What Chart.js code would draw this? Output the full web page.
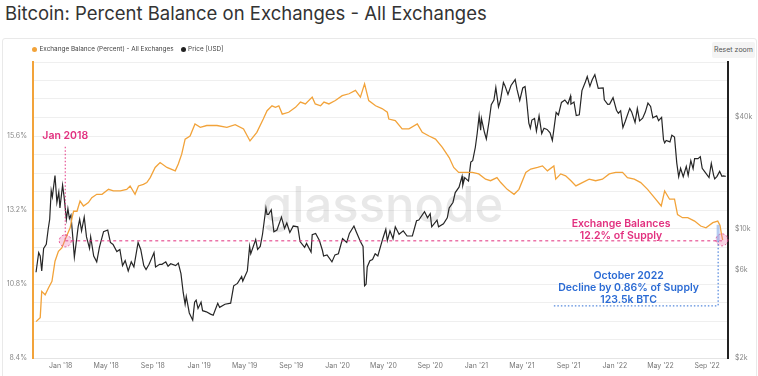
<!DOCTYPE html>
<html>
<head>
<meta charset="utf-8">
<script src="https://cdn.jsdelivr.net/npm/chart.js@4.4.0/dist/chart.umd.min.js"></script>
<style>
  body { margin: 0; width: 758px; height: 376px; overflow: hidden; background: #fff; font-family: Inter, "Noto Sans", sans-serif; position: relative; }
  #title { position: absolute; left: 5px; top: 1px; font-size: 18.5px; line-height: 25px; color: #333; white-space: nowrap; }
  #card { position: absolute; left: 2px; top: 38px; width: 753px; height: 345px; border: 1px solid #e9e9e9; border-radius: 3px; }
  #chart { position: absolute; left: 0; top: 0; }
  #legend { position: absolute; left: 32px; top: 45px; font-size: 6.4px; color: #444; display: flex; gap: 7px; z-index: 2; }
  #legend span { display: inline-flex; align-items: center; }
  #legend i { display: inline-block; width: 5px; height: 5px; border-radius: 50%; margin-right: 2.5px; }
  #reset { position: absolute; left: 712px; top: 42px; width: 43px; height: 16px; line-height: 16px; text-align: center; background: #f4f4f4; border-radius: 2px; font-size: 7px; color: #555; z-index: 2; }
</style>
</head>
<body>
<div id="title">Bitcoin: Percent Balance on Exchanges - All Exchanges</div>
<div id="card"></div>
<div id="legend">
  <span><i style="background:#f2a33a"></i>Exchange Balance (Percent) - All Exchanges</span>
  <span><i style="background:#222"></i>Price [USD]</span>
</div>
<div id="reset">Reset zoom</div>
<canvas id="chart" width="758" height="376"></canvas>
<script>
// exchange balance, % of supply
var balanceDates = ['2017-10-28','2017-11-08','2017-11-12','2017-11-21','2017-11-30','2017-12-09','2017-12-17','2017-12-26',
  '2018-01-04','2018-01-13','2018-01-22','2018-01-26','2018-01-31','2018-02-04','2018-02-13','2018-02-21','2018-03-02','2018-03-15',
  '2018-03-24','2018-04-06','2018-04-20','2018-05-07','2018-05-20','2018-06-07','2018-06-24','2018-07-03','2018-07-16','2018-07-25',
  '2018-08-07','2018-08-16','2018-08-25','2018-09-07','2018-09-20','2018-10-08','2018-10-30','2018-11-07','2018-11-16','2018-11-25',
  '2018-12-08','2018-12-21','2019-01-04','2019-01-21','2019-02-17','2019-03-15','2019-04-06','2019-04-28','2019-05-15','2019-06-02',
  '2019-06-19','2019-06-29','2019-07-12','2019-07-21','2019-07-30','2019-08-08','2019-08-25','2019-09-12','2019-09-25','2019-10-08',
  '2019-10-26','2019-11-03','2019-11-17','2019-11-26','2019-12-09','2019-12-26','2020-01-13','2020-01-31','2020-02-17','2020-03-01',
  '2020-03-12','2020-03-23','2020-04-10','2020-04-27','2020-05-11','2020-05-15','2020-06-01','2020-06-19','2020-07-07','2020-07-29',
  '2020-08-11','2020-08-29','2020-09-15','2020-10-03','2020-10-21','2020-11-02','2020-11-15','2020-12-03','2020-12-21','2021-01-07',
  '2021-01-25','2021-02-07','2021-02-24','2021-03-06','2021-03-23','2021-04-10','2021-04-23','2021-05-11','2021-05-24','2021-06-11',
  '2021-06-24','2021-07-07','2021-07-24','2021-07-29','2021-08-11','2021-08-24','2021-09-07','2021-09-20','2021-10-07','2021-10-25',
  '2021-11-11','2021-11-29','2021-12-17','2022-01-03','2022-01-21','2022-02-03','2022-02-21','2022-03-10','2022-03-28','2022-04-15',
  '2022-05-03','2022-05-12','2022-05-25','2022-06-07','2022-06-15','2022-06-28','2022-07-12','2022-07-30','2022-08-15','2022-08-29',
  '2022-09-16','2022-09-29','2022-10-05','2022-10-09','2022-10-12'];
var balancePct = [9.58,9.71,10.56,10.45,10.68,10.89,11.54,11.86,
  11.97,12.25,12.51,12.62,12.95,13.16,13.16,13.49,13.33,13.44,
  13.60,13.71,13.71,13.87,13.82,13.82,13.87,13.98,13.71,13.98,
  14.03,14.09,14.25,14.58,14.74,14.58,14.47,14.69,15.01,15.50,
  15.60,15.99,15.88,15.94,15.94,15.88,15.97,15.83,15.44,15.72,
  16.15,16.42,16.58,16.53,16.58,16.31,16.37,16.53,16.70,16.64,
  16.86,16.64,16.58,16.70,16.64,16.75,16.91,16.97,17.08,16.86,
  17.29,16.75,16.58,16.49,16.37,16.15,16.10,15.83,15.83,15.99,
  15.72,15.60,15.50,15.23,14.90,14.58,14.42,14.42,14.42,14.37,
  14.20,14.15,14.25,14.09,13.87,13.71,13.87,14.42,14.53,14.58,
  14.63,14.47,14.63,14.20,14.37,14.31,14.15,13.98,14.09,14.20,
  14.15,14.20,14.37,14.42,14.42,14.25,14.20,14.09,13.87,13.60,
  13.33,13.82,13.55,13.55,13.05,12.95,12.95,12.84,12.68,12.62,
  12.79,12.84,12.70,12.40,12.22];

// BTC price, USD
var priceDates = ['2017-10-28','2017-11-04','2017-11-08','2017-11-12','2017-11-17','2017-11-24','2017-11-29','2017-12-03','2017-12-07','2017-12-10',
  '2017-12-17','2017-12-22','2017-12-27','2017-12-30','2018-01-06','2018-01-10','2018-01-16','2018-01-20','2018-01-24','2018-01-28',
  '2018-02-02','2018-02-06','2018-02-10','2018-02-16','2018-02-20','2018-02-25','2018-03-04','2018-03-10','2018-03-18','2018-03-21',
  '2018-03-29','2018-04-06','2018-04-13','2018-04-24','2018-05-05','2018-05-12','2018-05-19','2018-05-29','2018-06-06','2018-06-13',
  '2018-06-20','2018-06-28','2018-07-06','2018-07-13','2018-07-24','2018-07-31','2018-08-08','2018-08-14','2018-08-22','2018-08-30',
  '2018-09-04','2018-09-08','2018-09-19','2018-09-25','2018-10-05','2018-10-11','2018-10-18','2018-10-31','2018-11-07','2018-11-14',
  '2018-11-20','2018-11-25','2018-11-28','2018-12-06','2018-12-15','2018-12-20','2018-12-24','2018-12-29','2019-01-06','2019-01-10',
  '2019-01-20','2019-01-31','2019-02-07','2019-02-19','2019-02-24','2019-03-10','2019-03-25','2019-04-02','2019-04-12','2019-04-23',
  '2019-04-26','2019-05-08','2019-05-14','2019-05-17','2019-05-30','2019-06-04','2019-06-11','2019-06-17','2019-06-26','2019-06-29',
  '2019-07-03','2019-07-10','2019-07-17','2019-07-25','2019-08-06','2019-08-14','2019-08-20','2019-08-28','2019-09-06','2019-09-18',
  '2019-09-24','2019-10-06','2019-10-11','2019-10-23','2019-10-26','2019-11-04','2019-11-14','2019-11-22','2019-11-25','2019-12-04',
  '2019-12-17','2019-12-25','2020-01-03','2020-01-14','2020-01-25','2020-02-01','2020-02-13','2020-02-19','2020-03-01','2020-03-08',
  '2020-03-12','2020-03-16','2020-03-19','2020-03-26','2020-04-02','2020-04-09','2020-04-16','2020-04-29','2020-05-07','2020-05-11',
  '2020-05-18','2020-05-26','2020-06-01','2020-06-11','2020-06-22','2020-07-02','2020-07-16','2020-07-27','2020-08-02','2020-08-17',
  '2020-08-25','2020-09-01','2020-09-05','2020-09-19','2020-09-23','2020-10-06','2020-10-16','2020-10-21','2020-10-31','2020-11-06',
  '2020-11-16','2020-11-24','2020-11-26','2020-12-01','2020-12-11','2020-12-17','2020-12-22','2020-12-29','2021-01-03','2021-01-08',
  '2021-01-12','2021-01-14','2021-01-22','2021-01-27','2021-02-03','2021-02-09','2021-02-16','2021-02-21','2021-02-28','2021-03-05',
  '2021-03-13','2021-03-17','2021-03-25','2021-04-02','2021-04-13','2021-04-18','2021-04-25','2021-05-03','2021-05-09','2021-05-13',
  '2021-05-19','2021-05-23','2021-05-27','2021-06-03','2021-06-08','2021-06-15','2021-06-22','2021-06-28','2021-07-06','2021-07-14',
  '2021-07-20','2021-07-25','2021-07-30','2021-08-05','2021-08-13','2021-08-22','2021-08-30','2021-09-06','2021-09-07','2021-09-15',
  '2021-09-21','2021-09-29','2021-10-06','2021-10-15','2021-10-20','2021-10-27','2021-11-02','2021-11-09','2021-11-18','2021-11-24',
  '2021-12-01','2021-12-04','2021-12-13','2021-12-18','2021-12-27','2022-01-05','2022-01-10','2022-01-16','2022-01-22','2022-01-28',
  '2022-02-09','2022-02-14','2022-02-23','2022-03-01','2022-03-07','2022-03-15','2022-03-22','2022-03-29','2022-04-05','2022-04-11',
  '2022-04-21','2022-04-26','2022-05-04','2022-05-09','2022-05-12','2022-05-16','2022-05-26','2022-05-31','2022-06-07','2022-06-13',
  '2022-06-18','2022-06-23','2022-06-30','2022-07-08','2022-07-13','2022-07-20','2022-07-26','2022-07-30','2022-08-08','2022-08-14',
  '2022-08-19','2022-08-26','2022-09-06','2022-09-12','2022-09-18','2022-09-21','2022-09-27','2022-10-04','2022-10-10','2022-10-14',
  '2022-10-20'];
var priceUsd = [5800,7400,7100,5900,7800,8200,9900,11200,16000,14800,
  19300,13800,15700,12900,17100,14800,11200,12800,11300,11800,
  8900,7000,8100,10200,11200,9700,11500,9000,7800,9000,
  7100,6600,7900,9600,9800,8400,8200,7500,7700,6300,
  6700,5900,6600,6200,8400,7700,6300,6000,6400,7000,
  7400,6200,6400,6400,6600,6250,6450,6300,6500,5700,
  4500,3900,4300,3500,3200,4000,4100,3700,4000,3600,
  3550,3450,3400,3950,3750,3900,3950,4900,5050,5500,
  5200,5900,8000,7300,8700,7700,8000,9300,12900,11900,
  11900,12600,9600,9800,11500,10000,10700,9500,10300,10200,
  8500,7900,8300,7450,9250,9400,8600,7600,7100,7200,
  6600,7200,7300,8800,8400,9400,10300,9600,8500,8000,
  4900,5000,6200,6700,6800,7300,7100,8800,9900,8600,
  9700,8800,10200,9300,9700,9100,9100,11000,11100,12300,
  11400,12000,10200,11100,10200,10600,11400,12900,13800,15600,
  16700,19100,17100,18800,18000,22800,23200,27400,32700,40600,
  33900,39200,33000,30400,37600,46500,49200,57500,45200,48800,
  61200,58900,52800,59000,63500,56000,49000,57200,58200,49700,
  37000,34700,38400,39200,33500,40500,32500,34700,34200,32800,
  29800,35400,42200,40900,47800,49300,46900,51800,46800,48100,
  40600,41000,55400,61600,66000,58400,63300,67500,56900,57100,
  57200,49400,46700,46800,50700,43400,41800,43100,35000,37700,
  44400,42500,37300,44300,38000,39300,42400,47400,45500,39500,
  40500,38100,39700,30100,28900,29800,29300,31800,31100,22500,
  19000,21100,19000,21600,19300,23200,21000,23800,23800,24400,
  21100,20200,18800,22400,19400,18500,19100,20300,19100,19200,
  19100];

// axis ticks
var monthTicks = ['2018-01-01','2018-05-01','2018-09-01','2019-01-01','2019-05-01','2019-09-01','2020-01-01','2020-05-01',
  '2020-09-01','2021-01-01','2021-05-01','2021-09-01','2022-01-01','2022-05-01','2022-09-01'];
var pctTicks = [8.4,9.0,9.6,10.2,10.8,11.4,12.0,12.6,13.2,13.8,14.4,15.0,15.6,16.2,16.8,17.4,18.0];
var pctLabels = [8.4,10.8,13.2,15.6];
var priceTicks = [2000,6000,10000,40000];
var monthNames = ['Jan','Feb','Mar','Apr','May','Jun','Jul','Aug','Sep','Oct','Nov','Dec'];

var ORANGE = '#f2a33a';
var PINK = '#e2307f';
var BLUE = '#2b6bd4';

function toPoints(dates, vals) {
  return dates.map(function (d, i) { return { x: Date.parse(d), y: vals[i] }; });
}

Chart.defaults.font.family = 'Inter, "Noto Sans", sans-serif';

var watermark = {
  id: 'watermark',
  beforeDatasetsDraw: function (chart) {
    var a = chart.chartArea, ctx = chart.ctx;
    ctx.save();
    ctx.font = '500 49px Inter';
    ctx.fillStyle = 'rgba(150,150,150,0.22)';
    ctx.textAlign = 'center';
    ctx.textBaseline = 'middle';
    ctx.fillText('glassnode', (a.left + a.right) / 2 + 2, (a.top + a.bottom) / 2 - 3);
    ctx.restore();
  }
};

var notes = {
  id: 'notes',
  afterDatasetsDraw: function (chart) {
    var ctx = chart.ctx, xs = chart.scales.x, ys = chart.scales.y;
    var px = function (d) { return xs.getPixelForValue(Date.parse(d)); };
    var py = function (v) { return ys.getPixelForValue(v); };
    function line(x1, y1, x2, y2, color, dash) {
      ctx.save();
      ctx.strokeStyle = color; ctx.lineWidth = 1; ctx.setLineDash(dash);
      ctx.beginPath(); ctx.moveTo(x1, y1); ctx.lineTo(x2, y2); ctx.stroke();
      ctx.restore();
    }
    function ring(x, y) {
      ctx.save();
      ctx.beginPath(); ctx.arc(x, y, 6, 0, Math.PI * 2);
      ctx.fillStyle = 'rgba(236,110,165,0.3)'; ctx.fill();
      ctx.strokeStyle = PINK; ctx.lineWidth = 0.8; ctx.setLineDash([2, 2]); ctx.stroke();
      ctx.restore();
    }
    function text(lines, x, y, color) {
      ctx.save();
      ctx.font = '600 10.5px Inter';
      ctx.fillStyle = color; ctx.textAlign = 'center'; ctx.textBaseline = 'middle';
      lines.forEach(function (t, i) { ctx.fillText(t, x, y + i * 12); });
      ctx.restore();
    }
    var x0 = px('2018-01-13'), x1 = px('2022-10-10'), xb = px('2022-09-30');
    var yLevel = py(12.2);
    line(x0, py(15.25), x0, yLevel, PINK, [1.5, 2]);
    line(x0, yLevel, x1, yLevel, PINK, [3, 3]);
    ring(x0, yLevel);
    ring(x1, yLevel - 1);
    text(['Jan 2018'], x0, py(15.6), PINK);
    text(['Exchange Balances', '12.2% of Supply'], px('2022-01-17'), py(12.76), PINK);

    // decline marker
    ctx.save();
    ctx.fillStyle = 'rgba(120,160,230,0.55)';
    ctx.fillRect(xb - 1.5, py(12.72), 3, yLevel - py(12.72));
    ctx.restore();
    line(xb, yLevel, xb, py(10.09), BLUE, [1.5, 2]);
    line(px('2021-07-24'), py(10.09), xb, py(10.09), BLUE, [1.5, 2]);
    text(['October 2022', 'Decline by 0.86% of Supply', '123.5k BTC'], px('2022-02-06'), py(11.08), BLUE);
  }
};

new Chart(document.getElementById('chart'), {
  type: 'line',
  data: {
    datasets: [
      {
        label: 'Exchange Balance (Percent) - All Exchanges',
        data: toPoints(balanceDates, balancePct),
        yAxisID: 'y',
        borderColor: ORANGE,
        borderWidth: 1.3,
        pointRadius: 0,
        tension: 0
      },
      {
        label: 'Price [USD]',
        data: toPoints(priceDates, priceUsd),
        yAxisID: 'y1',
        borderColor: '#262626',
        borderWidth: 1.2,
        pointRadius: 0,
        tension: 0
      }
    ]
  },
  options: {
    responsive: false,
    animation: false,
    layout: { padding: { top: 62, left: 0, right: 0, bottom: 0 } },
    plugins: { legend: { display: false }, tooltip: { enabled: false } },
    scales: {
      x: {
        type: 'linear',
        min: Date.parse('2017-10-20'),
        max: Date.parse('2022-10-26'),
        afterFit: function (s) { s.height = 18; },
        afterBuildTicks: function (s) { s.ticks = monthTicks.map(function (d) { return { value: Date.parse(d) }; }); },
        grid: { display: false, drawTicks: false },
        border: { color: '#e4e4e4', width: 1 },
        ticks: {
          autoSkip: false, maxRotation: 0, padding: 4,
          color: '#777', font: { size: 7 },
          callback: function (v) {
            var d = new Date(v);
            return monthNames[d.getUTCMonth()] + " '" + String(d.getUTCFullYear()).slice(2);
          }
        }
      },
      y: {
        position: 'left',
        min: 8.4,
        max: 18.0,
        afterFit: function (s) { s.width = 33; },
        afterBuildTicks: function (s) { s.ticks = pctTicks.map(function (v) { return { value: v }; }); },
        grid: { color: '#efefef', drawTicks: false },
        border: { color: ORANGE, width: 2 },
        ticks: {
          padding: 6, color: '#888', font: { size: 7 },
          callback: function (v) { return pctLabels.indexOf(v) >= 0 ? v.toFixed(1) + '%' : ''; }
        }
      },
      y1: {
        type: 'logarithmic',
        position: 'right',
        min: 2000,
        max: 79000,
        afterFit: function (s) { s.width = 30; },
        afterBuildTicks: function (s) { s.ticks = priceTicks.map(function (v) { return { value: v }; }); },
        grid: { display: false, drawTicks: false },
        border: { color: '#222', width: 2 },
        ticks: {
          padding: 7, color: '#888', font: { size: 7 },
          callback: function (v) { return '$' + (v / 1000) + 'k'; }
        }
      }
    }
  },
  plugins: [watermark, notes]
});
</script>
</body>
</html>
